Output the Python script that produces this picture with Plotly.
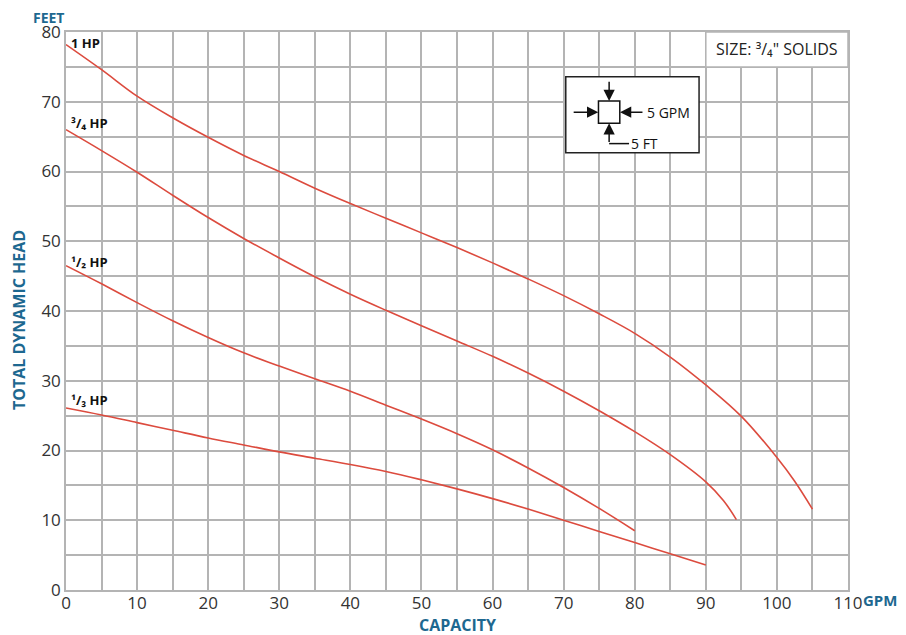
import plotly.graph_objects as go

# ---------------- data ----------------
hp1_x = [0, 5, 10, 15, 20, 25, 30, 35, 40, 45, 50, 55, 60, 65, 70, 75, 80, 85, 90, 95, 100, 102.5, 105]
hp1_y = [78.2, 74.6, 70.8, 67.7, 64.9, 62.3, 60.0, 57.6, 55.4, 53.3, 51.2, 49.1, 46.9, 44.6, 42.2, 39.6, 36.8, 33.4, 29.4, 24.9, 19.0, 15.6, 11.6]

hp34_x = [0, 5, 10, 15, 20, 25, 30, 35, 40, 45, 50, 55, 60, 65, 70, 75, 80, 85, 90, 92.5, 94.3]
hp34_y = [66.0, 63.0, 59.9, 56.6, 53.4, 50.4, 47.6, 44.9, 42.4, 40.1, 37.9, 35.7, 33.5, 31.1, 28.5, 25.7, 22.7, 19.4, 15.5, 12.8, 10.1]

hp12_x = [0, 5, 10, 15, 20, 25, 30, 35, 40, 45, 50, 55, 60, 65, 70, 75, 80]
hp12_y = [46.5, 43.9, 41.2, 38.6, 36.2, 34.0, 32.1, 30.3, 28.5, 26.5, 24.5, 22.4, 20.1, 17.5, 14.7, 11.7, 8.5]

hp13_x = [0, 5, 10, 15, 20, 25, 30, 35, 40, 45, 50, 55, 60, 65, 70, 75, 80, 85, 90]
hp13_y = [26.1, 25.1, 24.0, 22.9, 21.8, 20.8, 19.8, 18.9, 18.0, 17.0, 15.8, 14.5, 13.1, 11.6, 10.0, 8.4, 6.8, 5.2, 3.6]

series_names = ["1 HP", "³/₄ HP", "¹/₂ HP", "¹/₃ HP"]
label_y = [78.4, 66.9, 47.0, 27.2]

x_ticks = [0, 10, 20, 30, 40, 50, 60, 70, 80, 90, 100, 110]
y_ticks = [0, 10, 20, 30, 40, 50, 60, 70, 80]

RED = "#dc4b3e"
BLUE = "#1d6890"
GRID = "#b4b4b4"
FONT = "Open Sans"

fig = go.Figure()
for xs, ys, name in [(hp1_x, hp1_y, series_names[0]), (hp34_x, hp34_y, series_names[1]),
                     (hp12_x, hp12_y, series_names[2]), (hp13_x, hp13_y, series_names[3])]:
    fig.add_trace(go.Scatter(x=xs, y=ys, mode="lines", name=name,
                             line=dict(color=RED, width=1.6, shape="spline", smoothing=1.0),
                             hoverinfo="x+y+name"))

# curve labels
for name, ly in zip(series_names, label_y):
    fig.add_annotation(x=0.4, y=ly, xref="x", yref="y", text="<b>" + name + "</b>",
                       showarrow=False, xanchor="left", yanchor="middle",
                       font=dict(family=FONT, size=13, color="#111111"))

# SIZE box (white, covers grid)
fig.add_shape(type="rect", x0=90, x1=110, y0=75, y1=80, xref="x", yref="y",
              fillcolor="white", line=dict(color=GRID, width=1.5), layer="above")
fig.add_annotation(x=100, y=77.5, xref="x", yref="y", text="SIZE: ³/₄\" SOLIDS",
                   showarrow=False, font=dict(family=FONT, size=16, color="#222222"))

# Inset scale box
fig.add_shape(type="rect", x0=70.3, x1=89.05, y0=62.7, y1=73.6, xref="x", yref="y",
              fillcolor="white", line=dict(color="#222222", width=1.5), layer="above")
fig.add_shape(type="rect", x0=74.9, x1=77.9, y0=66.9, y1=70.1, xref="x", yref="y",
              fillcolor="white", line=dict(color="#111111", width=1.5), layer="above")
arrows = [
    (74.87, 68.5, 71.2, 68.5),
    (77.93, 68.5, 81.3, 68.5),
    (76.4, 70.1, 76.4, 73.1),
    (76.4, 66.9, 76.4, 64.0),
]
for hx, hy, tx, ty in arrows:
    fig.add_annotation(x=hx, y=hy, ax=tx, ay=ty, xref="x", yref="y", axref="x", ayref="y",
                       text="", showarrow=True, arrowhead=2, arrowsize=1.5, arrowwidth=1.5,
                       arrowcolor="#111111")
fig.add_shape(type="line", x0=76.4, x1=79.2, y0=64.0, y1=64.0, xref="x", yref="y",
              line=dict(color="#111111", width=1.5), layer="above")
fig.add_annotation(x=81.4, y=68.5, xref="x", yref="y", text="5 GPM", showarrow=False,
                   xanchor="left", font=dict(family=FONT, size=14, color="#111111"))
fig.add_annotation(x=79.2, y=64.0, xref="x", yref="y", text="5 FT", showarrow=False,
                   xanchor="left", font=dict(family=FONT, size=14, color="#111111"))

# axis titles
title_font = dict(family=FONT, size=16, color=BLUE)
fig.add_annotation(xref="paper", yref="paper", x=-0.0445, y=1.026, text="<b>FEET</b>",
                   showarrow=False, xanchor="left", yanchor="middle",
                   font=dict(family=FONT, size=14, color=BLUE))
fig.add_annotation(xref="paper", yref="paper", x=-0.060, y=0.484, text="<b>TOTAL DYNAMIC HEAD</b>",
                   showarrow=False, textangle=-90, xanchor="center", yanchor="middle", font=title_font)
fig.add_annotation(xref="paper", yref="paper", x=0.5, y=-0.062, text="<b>CAPACITY</b>",
                   showarrow=False, xanchor="center", yanchor="middle", font=title_font)
fig.add_annotation(xref="paper", yref="paper", x=1.0165, y=-0.018, text="<b>GPM</b>",
                   showarrow=False, xanchor="left", yanchor="middle",
                   font=dict(family=FONT, size=15, color=BLUE))

# the page body adds an 8px offset, so the figure is sized/margined to compensate
fig.update_layout(
    width=898, height=627,
    margin=dict(l=58, r=58, t=24, b=45, autoexpand=False),
    paper_bgcolor="white", plot_bgcolor="white",
    showlegend=False,
    xaxis=dict(range=[0, 110], tickvals=x_ticks, ticktext=[str(v) for v in x_ticks],
               showgrid=True, gridcolor=GRID, gridwidth=1.5,
               minor=dict(dtick=5, showgrid=True, gridcolor=GRID, gridwidth=1.5),
               showline=True, linecolor=GRID, linewidth=1.5, mirror=True,
               zeroline=False, ticks="", ticklabelstandoff=-3, automargin=False,
               tickfont=dict(family=FONT, size=17, color="#333333")),
    yaxis=dict(range=[0, 80], tickvals=y_ticks, ticktext=[str(v) for v in y_ticks],
               showgrid=True, gridcolor=GRID, gridwidth=1.5,
               minor=dict(dtick=5, showgrid=True, gridcolor=GRID, gridwidth=1.5),
               showline=True, linecolor=GRID, linewidth=1.5, mirror=True,
               zeroline=False, ticks="", ticklabelstandoff=0, automargin=False,
               tickfont=dict(family=FONT, size=17, color="#333333")),
)

fig.write_html("out.html")
